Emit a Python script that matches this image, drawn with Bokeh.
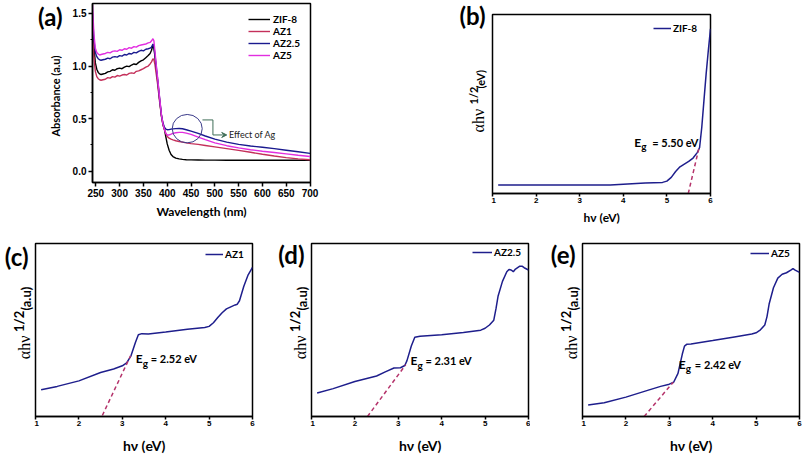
import math
from bokeh.plotting import figure
from bokeh.models import (Range1d, FixedTicker, Label, Legend, LegendItem, Spacer,
                          PrintfTickFormatter, Arrow, VeeHead)
from bokeh.layouts import column, row
from bokeh.embed import file_html
from bokeh.resources import INLINE

# ---------------- data : panel (a) ----------------
wavelength = [243, 246, 249, 252, 255, 258, 261, 265,
              270, 275, 280, 285, 290, 295, 300, 305, 310, 315, 320, 325, 330, 335, 340, 345, 350, 355, 360,
              364, 367, 370, 372, 374, 377, 380, 384, 388, 391, 394, 397, 400,
              404, 408, 412, 418, 425, 432, 440, 450,
              465, 480, 500, 525, 550, 575, 600, 625, 650, 675, 700]
abs_zif8 = [1.42, 1.18, 1.03, 0.97, 0.94, 0.925, 0.92, 0.925,
            0.93, 0.945, 0.95, 0.965, 0.96, 0.975, 0.98, 0.975, 0.99, 1.0, 0.995, 1.01, 1.02, 1.015, 1.035, 1.05, 1.06, 1.08, 1.1,
            1.12, 1.15, 1.2, 1.17, 1.1, 0.97, 0.85, 0.68, 0.52, 0.44, 0.4, 0.33, 0.26,
            0.2, 0.16, 0.14, 0.125, 0.118, 0.113, 0.11, 0.108,
            0.107, 0.106, 0.106, 0.105, 0.105, 0.104, 0.104, 0.104, 0.104, 0.104, 0.104]
abs_az1 = [1.36, 1.08, 0.95, 0.9, 0.88, 0.87, 0.865, 0.87,
           0.875, 0.89, 0.885, 0.9, 0.895, 0.91, 0.905, 0.915, 0.92, 0.915, 0.93, 0.935, 0.93, 0.95, 0.955, 0.965, 0.975, 0.99, 1.0,
           1.02, 1.04, 1.07, 1.06, 1.02, 0.92, 0.82, 0.66, 0.52, 0.45, 0.4, 0.36, 0.33,
           0.315, 0.305, 0.298, 0.29, 0.283, 0.277, 0.27, 0.263,
           0.255, 0.245, 0.232, 0.215, 0.198, 0.18, 0.162, 0.145, 0.13, 0.118, 0.11]
abs_az25 = [1.5, 1.25, 1.13, 1.09, 1.07, 1.06, 1.055, 1.06,
            1.065, 1.075, 1.07, 1.085, 1.09, 1.085, 1.1, 1.095, 1.11, 1.105, 1.12, 1.115, 1.13, 1.125, 1.14, 1.15, 1.145, 1.16, 1.165,
            1.17, 1.18, 1.21, 1.19, 1.12, 0.99, 0.87, 0.69, 0.53, 0.46, 0.42, 0.4, 0.395,
            0.396, 0.4, 0.403, 0.405, 0.406, 0.404, 0.395, 0.382,
            0.36, 0.335, 0.305, 0.277, 0.255, 0.24, 0.228, 0.215, 0.2, 0.185, 0.17]
abs_az5 = [1.58, 1.3, 1.17, 1.13, 1.115, 1.105, 1.11, 1.115,
           1.12, 1.13, 1.125, 1.14, 1.145, 1.14, 1.155, 1.15, 1.165, 1.16, 1.175, 1.17, 1.185, 1.18, 1.195, 1.2, 1.205, 1.21, 1.22,
           1.225, 1.24, 1.26, 1.24, 1.15, 1.01, 0.88, 0.7, 0.53, 0.45, 0.4, 0.36, 0.345,
           0.345, 0.352, 0.36, 0.366, 0.37, 0.37, 0.362, 0.35,
           0.325, 0.3, 0.27, 0.243, 0.222, 0.205, 0.19, 0.178, 0.165, 0.152, 0.14]
series_names = ["ZIF-8", "AZ1", "AZ2.5", "AZ5"]
wl_ticks = [250, 300, 350, 400, 450, 500, 550, 600, 650, 700]
abs_ticks = [0.0, 0.5, 1.0, 1.5]
abs_minor_ticks = [0.25, 0.75, 1.25]
# "Effect of Ag" marker (circle centre/size, bracket path, arrow)
ag_circle = [442, 0.405, 63, 0.27]
ag_bracket_x = [474, 496, 496]
ag_bracket_y = [0.488, 0.488, 0.345]
ag_arrow = [496, 0.345, 525, 0.345]
ag_text_pos = [530, 0.352]

# ---------------- data : Tauc panels (b)-(e) ----------------
hv_ticks = [1, 2, 3, 4, 5, 6]
hv_b = [1.13, 1.5, 2.0, 2.5, 3.0, 3.5, 3.7, 4.0, 4.5, 4.9, 5.0, 5.1, 5.2, 5.3, 5.4, 5.5, 5.6, 5.7, 5.75, 5.8, 5.85, 5.9, 5.95, 6.0]
tauc_b = [4.7, 4.7, 4.7, 4.7, 4.7, 4.7, 4.7, 5.2, 5.8, 6.2, 6.9, 9.0, 12.3, 14.9, 16.4, 17.9, 19.8, 23.0, 25.7, 37.0, 52.0, 66.8, 79.9, 92.0]
tan_b_x = [5.49, 5.73]
tan_b_y = [0.0, 24.8]

hv_c = [1.13, 1.5, 2.0, 2.5, 2.8, 3.0, 3.1, 3.2, 3.3, 3.37, 3.45, 3.6, 4.0, 4.5, 4.9, 5.0, 5.1, 5.2, 5.3, 5.4, 5.5, 5.6, 5.65, 5.7, 5.8, 5.9, 6.0]
tauc_c = [15.5, 17.4, 20.6, 25.4, 27.5, 29.3, 31.0, 35.1, 42.6, 47.3, 47.9, 47.7, 48.8, 50.5, 51.4, 52.1, 54.2, 57.2, 60.0, 62.2, 63.4, 64.5, 64.9, 66.9, 75.3, 81.9, 86.2]
tan_c_x = [2.54, 3.19]
tan_c_y = [0.6, 35.1]

hv_d = [1.13, 1.5, 2.0, 2.5, 2.7, 2.9, 3.05, 3.15, 3.2, 3.3, 3.38, 3.5, 4.0, 4.5, 4.9, 5.0, 5.1, 5.2, 5.25, 5.3, 5.4, 5.5, 5.55, 5.6, 5.65, 5.7, 5.8, 5.85, 5.9, 6.0]
tauc_d = [13.6, 16.1, 20.2, 23.4, 25.8, 28.0, 28.2, 29.5, 32.3, 40.7, 45.8, 46.4, 47.3, 48.6, 49.9, 51.0, 52.9, 55.7, 62.2, 69.7, 78.1, 83.7, 85.0, 84.7, 83.7, 85.2, 86.9, 86.9, 86.0, 84.7]
tan_d_x = [2.29, 3.17]
tan_d_y = [0.0, 29.9]

hv_e = [1.13, 1.5, 2.0, 2.5, 2.8, 3.0, 3.1, 3.2, 3.25, 3.3, 3.35, 3.4, 3.5, 4.0, 4.5, 4.9, 5.0, 5.1, 5.2, 5.25, 5.3, 5.4, 5.5, 5.6, 5.7, 5.8, 5.85, 5.9, 6.0]
tauc_e = [6.7, 8.0, 11.2, 15.1, 17.4, 18.7, 19.8, 24.9, 30.5, 36.1, 40.7, 41.7, 41.9, 43.9, 46.0, 47.7, 48.4, 50.1, 52.9, 57.6, 65.0, 74.4, 80.0, 82.2, 83.1, 84.6, 85.5, 84.6, 83.3]
tan_e_x = [2.42, 3.09]
tan_e_y = [0.0, 19.8]

eg_values = ["5.50", "2.52", "2.31", "2.42"]
eg_label_pos = [(4.25, 28.5), (3.31, 33.3), (3.28, 32.3), (3.22, 30.3)]

# ---------------- layout (page pixels) ----------------
TITLE_FONT = "Lato"
TICK_FONT = "Liberation Sans"
CURVE_BLUE = "#1e1e8c"
DASH_RED = "#b5336b"
COLORS_A = ["#000000", "#c4305a", "#1a1a8f", "#e22ee0"]
ROW1_H = 237
ROW2_H = 219
SHIFT_B = 11  # panel (b) sits lower than panel (a)


def make_fig(box, frame, xr, yr):
    """box = canvas (x1, y1, x2, y2); frame = (left, top, right, bottom), page pixels."""
    X1, Y1, X2, Y2 = box
    fl, ft, fr, fb = frame
    p = figure(width=X2 - X1, height=Y2 - Y1, x_range=xr, y_range=yr, title=None,
               output_backend="svg", toolbar_location=None,
               min_border_left=fl - X1, min_border_right=X2 - fr,
               min_border_top=ft - Y1, min_border_bottom=Y2 - fb)
    p.xgrid.visible = False
    p.ygrid.visible = False
    p.outline_line_color = "black"
    p.outline_line_width = 1.5
    p.background_fill_color = "white"
    p.border_fill_color = "white"
    return p, fb - ft


class Gutter:
    """Plain text strip beside a panel; its data units are page pixels (y downwards)."""

    def __init__(self, box, ft, fb):
        X1, Y1, X2, Y2 = box
        p = figure(width=X2 - X1, height=Y2 - Y1, title=None, x_axis_type=None, y_axis_type=None,
                   x_range=Range1d(X1, X2), y_range=Range1d(fb, ft),
                   output_backend="svg", toolbar_location=None,
                   min_border_left=0, min_border_right=0,
                   min_border_top=ft - Y1, min_border_bottom=Y2 - fb)
        p.xgrid.visible = False
        p.ygrid.visible = False
        p.outline_line_color = None
        p.background_fill_color = "white"
        p.border_fill_color = "white"
        self.p = p

    def text(self, X, Y, txt, font, size, bold=True, align="left", baseline="middle", angle=0.0):
        self.p.add_layout(Label(x=X, y=Y, text=txt, angle=angle, text_align=align,
                                text_baseline=baseline, text_font=font,
                                text_font_style="bold" if bold else "normal",
                                text_font_size=size, text_color="black"))


def style_axis(ax, tick_size, title_size):
    ax.axis_line_width = 1.5
    ax.axis_line_color = "black"
    ax.major_tick_line_width = 1.5
    ax.minor_tick_line_width = 1.2
    ax.major_tick_in = 0
    ax.minor_tick_in = 0
    ax.major_label_text_font = TICK_FONT
    ax.major_label_text_font_style = "bold"
    ax.major_label_text_font_size = tick_size
    ax.major_label_text_color = "black"
    ax.axis_label_text_font = TITLE_FONT
    ax.axis_label_text_font_style = "bold"
    ax.axis_label_text_font_size = title_size
    ax.axis_label_text_color = "black"


def add_legend(p, fh, items, dx, dy_first, glyph_w, standoff, spacing=-2, pitch=13.7, size="10px"):
    n = len(items)
    last_center = dy_first + (n - 1) * pitch
    leg = Legend(items=items, location=(dx, fh - last_center - 8),
                 padding=0, margin=0, spacing=spacing,
                 glyph_width=int(round(glyph_w)), glyph_height=12,
                 label_height=12, label_standoff=int(round(standoff)),
                 label_text_font=TITLE_FONT, label_text_font_style="bold",
                 label_text_font_size=size, label_text_color="black",
                 border_line_color=None, background_fill_alpha=0)
    p.add_layout(leg)


# ---------------- panel (a) ----------------
ga = Gutter((0, 0, 65, 226), 3, 182)
ga.text(62, 16, "(a)", TITLE_FONT, "24px", align="right")
ga.text(55, 95.5, "Absorbance (a.u)", TITLE_FONT, "11px", align="center", angle=math.pi / 2)

pa, fah = make_fig((65, 0, 400, 226), (92, 3, 310, 182), Range1d(243, 701), Range1d(-0.107, 1.595))
renderers = []
for ys, col in zip([abs_zif8, abs_az1, abs_az25, abs_az5], COLORS_A):
    renderers.append(pa.line(wavelength, ys, line_color=col, line_width=1.4))
pa.xaxis.ticker = FixedTicker(ticks=wl_ticks)
pa.yaxis.ticker = FixedTicker(ticks=abs_ticks, minor_ticks=abs_minor_ticks)
pa.yaxis.formatter = PrintfTickFormatter(format="%.1f")
for ax in (pa.xaxis[0], pa.yaxis[0]):
    style_axis(ax, "10px", "12px")
    ax.major_tick_out = 4
    ax.minor_tick_out = 2
    ax.major_label_standoff = 2
    ax.axis_label_standoff = 4
pa.xaxis.axis_label = "Wavelength (nm)"

pa.ellipse(x=[ag_circle[0]], y=[ag_circle[1]], width=ag_circle[2], height=ag_circle[3],
           fill_color=None, line_color="#3b3b8a", line_width=1)
pa.line(ag_bracket_x, ag_bracket_y, line_color="#3f6e57", line_width=1)
pa.add_layout(Arrow(x_start=ag_arrow[0], y_start=ag_arrow[1], x_end=ag_arrow[2], y_end=ag_arrow[3],
                    line_color="#3f6e57", line_width=1,
                    end=VeeHead(size=5, line_color="#3f6e57", fill_color="#3f6e57", line_width=1)))
pa.add_layout(Label(x=ag_text_pos[0], y=ag_text_pos[1], text="Effect of Ag", text_baseline="middle",
                    text_align="left", text_font=TITLE_FONT, text_font_size="9px", text_color="#222222"))

add_legend(pa, fah, [LegendItem(label=n, renderers=[r]) for n, r in zip(series_names, renderers)],
           156, 9, 22, 3)


# ---------------- Tauc panels ----------------
def tauc_panel(box, frame, hv, ys, tx, ty, name, eg, eg_pos,
               leg_dx, leg_dy, leg_gw, leg_so, title_size, title_standoff, g_off, eq_off):
    p, fh = make_fig(box, frame, Range1d(1, 6), Range1d(0, 100))
    r = p.line(hv, ys, line_color=CURVE_BLUE, line_width=1.5)
    p.line(tx, ty, line_color=DASH_RED, line_width=1.5, line_dash="4 3")
    p.yaxis.visible = False
    p.xaxis.ticker = FixedTicker(ticks=hv_ticks)
    style_axis(p.xaxis[0], "8px", title_size)
    p.xaxis.major_tick_out = 3
    p.xaxis.minor_tick_out = 0
    p.xaxis.major_label_standoff = 1
    p.xaxis.axis_label_standoff = title_standoff
    p.xaxis.axis_label = "hν (eV)"
    add_legend(p, fh, [LegendItem(label=name, renderers=[r])], leg_dx, leg_dy, leg_gw, leg_so)
    ex, ey = eg_pos
    p.add_layout(Label(x=ex, y=ey, text="E", text_align="left", text_baseline="middle",
                       text_font=TITLE_FONT, text_font_style="bold", text_font_size="12px", text_color="black"))
    p.add_layout(Label(x=ex, y=ey, x_offset=g_off, y_offset=-4, text="g", text_align="left",
                       text_baseline="middle", text_font=TITLE_FONT, text_font_style="bold",
                       text_font_size="10px", text_color="black"))
    p.add_layout(Label(x=ex, y=ey, x_offset=eq_off, text="= " + eg + " eV", text_align="left",
                       text_baseline="middle", text_font=TITLE_FONT, text_font_style="bold",
                       text_font_size="11px", text_color="black"))
    return p


def tauc_gutter(box, ft, fb, frame_left, letter, letter_cy, unit, big):
    g = Gutter(box, ft, fb)
    g.text(frame_left - 7, letter_cy, letter, TITLE_FONT, "24px", align="right")
    if big:
        g.text(frame_left - 11.5, fb - 59, "αhν", "Liberation Serif", "16px", bold=False, angle=math.pi / 2)
        g.text(frame_left - 16.5, fb - 87, "1/2", TITLE_FONT, "13px", angle=math.pi / 2)
        g.text(frame_left - 9.5, fb - 109, unit, TITLE_FONT, "13px", angle=math.pi / 2)
    else:
        g.text(frame_left - 14, fb - 61, "αhν", "Liberation Serif", "16px", bold=False, angle=math.pi / 2)
        g.text(frame_left - 19, fb - 89, "1/2", TITLE_FONT, "11px", angle=math.pi / 2)
        g.text(frame_left - 12, fb - 105, unit, TITLE_FONT, "11px", angle=math.pi / 2)
    return g.p


# row 1: panel (b) is drawn SHIFT_B lower, so every plot in the row keeps the same borders
gb = tauc_gutter((400, 0, 491, ROW1_H), 3, 193, 492, "(b)", 15, "(eV)", False)
pb = tauc_panel((491, SHIFT_B, 802, ROW1_H), (492, 14, 710, 193), hv_b, tauc_b, tan_b_x, tan_b_y,
                "ZIF-8", eg_values[0], eg_label_pos[0], 161, 11.5, 18, 2, "12px", 4, 7, 18)

# row 2 (page y from ROW1_H to ROW1_H + ROW2_H)
R2 = ROW1_H
R2B = ROW1_H + ROW2_H
gc = tauc_gutter((0, R2, 34, R2B), 243, 421, 35, "(c)", 256, "(a.u)", True)
pc = tauc_panel((34, R2, 270, R2B), (35, 243, 252, 421), hv_c, tauc_c, tan_c_x, tan_c_y,
                "AZ1", eg_values[1], eg_label_pos[1], 170, 13.7, 18, 2, "14px", 8, 7, 15)

gd = tauc_gutter((270, R2, 310, R2B), 243, 421, 311, "(d)", 254, "(a.u)", True)
pd = tauc_panel((310, R2, 530, R2B), (311, 243, 528, 421), hv_d, tauc_d, tan_d_x, tan_d_y,
                "AZ2.5", eg_values[2], eg_label_pos[2], 161, 11.5, 20, 1.5, "14px", 8, 7, 15)

ge = tauc_gutter((530, R2, 581, R2B), 243, 421, 582, "(e)", 254, "(a.u)", True)
pe = tauc_panel((581, R2, 802, R2B), (582, 243, 799, 421), hv_e, tauc_e, tan_e_x, tan_e_y,
                "AZ5", eg_values[3], eg_label_pos[3], 168, 12.5, 19, 1.5, "14px", 8, 7, 16)

row1 = row(column(ga.p, Spacer(width=65, height=ROW1_H - 226), spacing=0),
           column(pa, Spacer(width=335, height=ROW1_H - 226), spacing=0),
           gb,
           column(Spacer(width=311, height=SHIFT_B), pb, spacing=0),
           spacing=0)
row2 = row(gc, pc, gd, pd, ge, pe, spacing=0)
layout = column(row1, row2, spacing=0)
open("out.html", "w").write(file_html(layout, INLINE))
